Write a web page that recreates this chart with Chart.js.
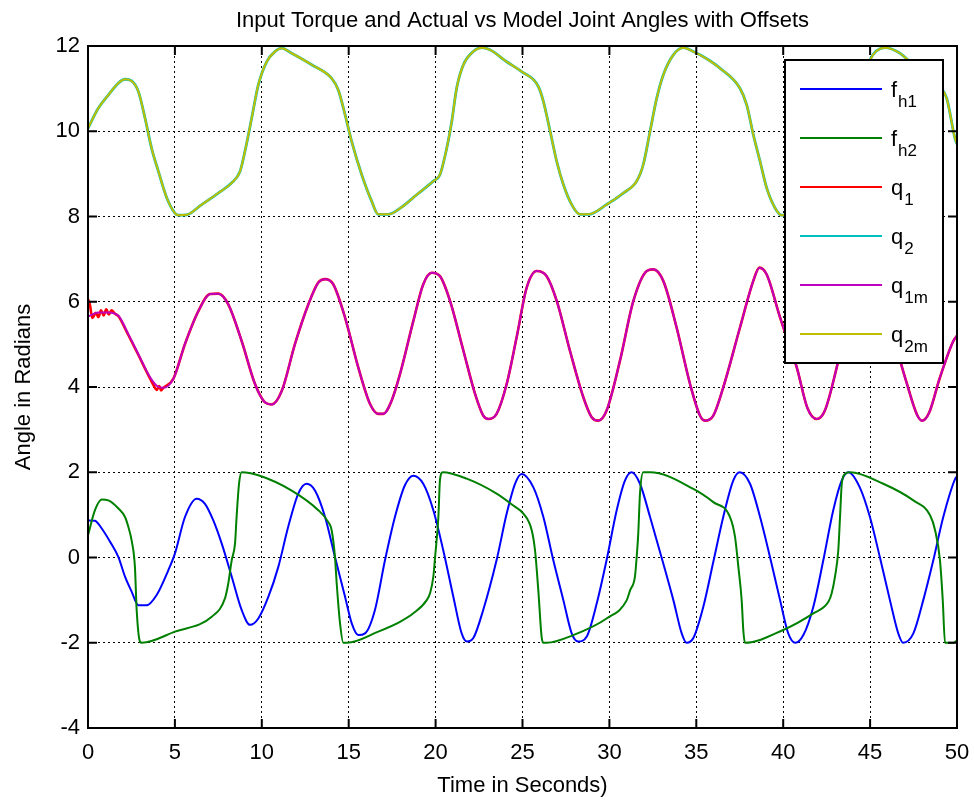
<!DOCTYPE html>
<html>
<head>
<meta charset="utf-8">
<script src="https://cdn.jsdelivr.net/npm/chart.js@4.4.1/dist/chart.umd.min.js"></script>
<style>
html, body { margin: 0; padding: 0; background: #fff; }
#wrap { width: 974px; height: 804px; }
</style>
</head>
<body>
<div id="wrap"><canvas id="chart" width="974" height="804"></canvas></div>
<script>
// axis ticks
const xTicks = [0, 5, 10, 15, 20, 25, 30, 35, 40, 45, 50];
const yTicks = [-4, -2, 0, 2, 4, 6, 8, 10, 12];

// [time, angle] pairs
const fh1 = [[0,0.87],[0.4,0.86],[0.79,0.68],[1.27,0.37],[1.75,0.01],[2.13,-0.45],[2.51,-0.8],[2.9,-1.12],[3.37,-1.12],
  [3.95,-0.88],[4.62,-0.3],[5.0,0.09],[5.58,0.95],[6.25,1.38],[6.73,1.26],[7.21,0.87],[7.69,0.33],[8.27,-0.45],
  [8.84,-1.23],[9.32,-1.58],[9.8,-1.43],[10.38,-0.92],[10.95,-0.22],[11.52,0.72],[12.1,1.5],[12.58,1.73],[13.06,1.57],
  [13.64,0.95],[14.21,0.01],[14.79,-0.92],[15.17,-1.54],[15.55,-1.82],[15.94,-1.78],[16.51,-1.23],[17.09,-0.06],
  [17.66,0.95],[18.24,1.7],[18.72,1.92],[19.29,1.73],[19.87,1.11],[20.44,0.17],[21.02,-0.92],[21.5,-1.78],[21.8,-1.97],
  [22.17,-1.89],[22.74,-1.23],[23.51,-0.06],[24.09,1.03],[24.57,1.73],[24.95,1.96],[25.62,1.65],[26.2,0.95],
  [26.77,-0.06],[27.35,-1.0],[27.83,-1.78],[28.2,-1.97],[28.69,-1.86],[29.27,-1.08],[29.84,-0.06],[30.42,1.11],
  [30.9,1.81],[31.28,2.0],[31.76,1.73],[32.34,0.95],[33.1,-0.14],[33.68,-1.0],[34.16,-1.78],[34.44,-2.0],[34.83,-1.89],
  [35.4,-1.16],[35.98,-0.1],[36.55,0.95],[37.13,1.81],[37.5,2.0],[38.09,1.73],[38.67,0.95],[39.24,0.01],[39.82,-1.0],
  [40.29,-1.78],[40.7,-2.0],[41.16,-1.82],[41.73,-1.16],[42.31,-0.06],[42.88,1.11],[43.37,1.81],[43.75,2.0],[44.4,1.65],
  [44.99,0.95],[45.56,0.01],[46.14,-1.0],[46.62,-1.78],[46.9,-2.0],[47.49,-1.78],[48.06,-1.0],[48.64,-0.06],[49.21,0.95],
  [49.9,1.85],[50,1.9]];

const fh2 = [[0,0.52],[0.4,1.11],[0.79,1.36],[1.17,1.34],[1.75,1.15],[2.13,0.95],[2.32,0.72],[2.51,0.4],[2.7,-0.22],
  [2.8,-1.23],[2.99,-1.97],[3.1,-2.0],[5.0,-1.74],[7.12,-1.39],[7.88,-0.96],[8.07,-0.61],[8.27,-0.06],[8.46,0.33],
  [8.55,0.95],[8.69,1.73],[8.84,2.0],[9.8,1.93],[11.72,1.57],[13.25,1.11],[13.83,0.83],[14.02,0.64],[14.21,0.01],
  [14.31,-0.61],[14.5,-1.54],[14.69,-2.0],[14.9,-2.0],[16.7,-1.74],[17.95,-1.51],[18.72,-1.31],[19.49,-1.0],[19.68,-0.84],
  [19.87,-0.45],[19.97,0.01],[20.16,0.95],[20.25,1.81],[20.41,2.0],[21.79,1.85],[23.51,1.5],[24.47,1.22],[25.05,1.03],
  [25.53,0.64],[25.72,0.17],[25.91,-0.77],[26.1,-1.86],[26.2,-2.0],[26.39,-2.0],[27.92,-1.82],[29.84,-1.43],[31.0,-1.0],
  [31.19,-0.77],[31.47,-0.45],[31.57,0.01],[31.66,0.56],[31.76,1.5],[31.95,2.0],[32.34,2.0],[34.83,1.61],[35.98,1.3],
  [36.94,0.95],[37.23,0.48],[37.42,-0.22],[37.61,-1.0],[37.71,-1.74],[37.8,-2.0],[40.0,-1.7],[41.73,-1.31],[42.6,-1.04],
  [42.79,-0.84],[42.98,-0.45],[43.17,0.17],[43.27,0.95],[43.37,1.73],[43.56,1.96],[43.84,2.0],[45.76,1.73],[47.49,1.34],
  [48.45,0.99],[48.74,0.64],[49.02,-0.06],[49.18,-1.0],[49.31,-2.0],[49.79,-2.0],[50,-1.95]];

const q1m = [[0,5.65],[0.59,5.75],[1.17,5.75],[1.75,5.67],[2.32,5.24],[2.9,4.77],[3.47,4.3],[3.95,4.03],[4.33,3.98],
  [4.91,4.19],[5.58,5.01],[6.35,5.78],[7.02,6.18],[7.5,6.19],[8.07,5.94],[8.84,5.08],[9.61,4.07],[10.18,3.64],
  [10.57,3.59],[11.15,3.91],[11.91,5.01],[12.68,5.94],[13.25,6.45],[13.64,6.53],[14.11,6.41],[14.79,5.63],[15.55,4.46],
  [16.23,3.6],[16.7,3.37],[16.99,3.37],[17.47,3.68],[17.95,4.3],[18.72,5.55],[19.29,6.41],[19.78,6.68],[20.25,6.6],
  [20.83,6.02],[21.6,4.85],[22.27,3.84],[22.74,3.33],[23.03,3.25],[23.51,3.37],[24.09,4.07],[24.66,5.16],[25.24,6.33],
  [25.82,6.72],[26.39,6.6],[26.97,6.02],[27.73,4.85],[28.5,3.76],[28.98,3.29],[29.36,3.21],[29.84,3.45],[30.61,4.62],
  [31.38,6.02],[32.15,6.72],[32.53,6.76],[33.1,6.49],[33.87,5.39],[34.64,4.07],[35.21,3.33],[35.5,3.21],[35.98,3.33],
  [36.55,3.99],[37.51,5.39],[38.28,6.49],[38.63,6.8],[39.05,6.64],[39.82,5.63],[40.3,5.05],[40.78,4.46],[41.4,3.5],
  [41.93,3.25],[42.4,3.45],[43.08,4.46],[43.7,5.6],[44.3,6.5],[44.9,6.78],[45.7,6.2],[46.4,5.1],[47.1,4.1],[47.7,3.35],
  [48.0,3.21],[48.4,3.4],[49.0,4.2],[49.79,5.08],[50,5.2]];

// measured q1 wobbles at the start, then sits on q1m
const q1Start = [[0,6.06],[0.1,5.95],[0.25,5.62],[0.45,5.74],[0.6,5.64],[0.75,5.8],[0.9,5.68],[1.05,5.82],[1.2,5.7],
  [1.35,5.8],[1.55,5.72],[1.75,5.66],[2.32,5.22],[2.9,4.75],[3.47,4.28],[3.8,4.02],[3.95,3.93],[4.1,4.02],[4.2,3.92],
  [4.33,3.98]];
const q1 = q1Start.concat(q1m.filter(p => p[0] > 4.5));

const q2m = [[0,10.07],[0.59,10.54],[1.17,10.85],[1.75,11.13],[2.13,11.22],[2.51,11.18],[2.9,10.93],[3.28,10.31],
  [3.66,9.6],[4.05,9.06],[4.53,8.44],[5.0,8.08],[5.2,8.03],[5.68,8.04],[6.54,8.28],[7.5,8.55],[8.27,8.79],[8.75,9.06],
  [9.03,9.53],[9.42,10.31],[9.8,11.09],[10.28,11.63],[10.76,11.87],[11.14,11.95],[11.72,11.83],[12.87,11.56],
  [14.02,11.24],[14.4,10.97],[14.79,10.39],[15.17,9.76],[15.75,8.98],[16.32,8.36],[16.7,8.05],[17.28,8.05],[18.05,8.22],
  [18.91,8.51],[19.87,8.83],[20.25,8.98],[20.64,9.6],[20.93,10.23],[21.21,11.01],[21.6,11.56],[22.17,11.87],
  [22.65,11.96],[23.13,11.91],[24.09,11.63],[24.95,11.4],[25.91,11.05],[26.2,10.7],[26.59,10.0],[26.97,9.29],
  [27.35,8.75],[27.83,8.28],[28.31,8.05],[28.79,8.05],[29.84,8.28],[30.8,8.55],[31.57,8.83],[31.95,9.22],[32.34,10.0],
  [32.72,10.77],[33.1,11.32],[33.68,11.79],[34.25,11.96],[34.83,11.87],[35.6,11.7],[36.36,11.48],[37.51,11.01],
  [37.9,10.62],[38.28,9.92],[38.67,9.29],[39.05,8.67],[39.53,8.2],[39.91,8.03],[40.5,8.05],[41.5,8.3],[42.5,8.55],
  [43.3,8.85],[43.7,9.4],[44.1,10.2],[44.5,11.0],[44.99,11.67],[45.86,11.96],[46.72,11.83],[47.3,11.63],[48.4,11.3],
  [49.1,11.0],[49.41,10.77],[49.88,9.84],[50,9.7]];
const q2 = q2m;

const seriesData = [fh1, fh2, q1, q2, q1m, q2m];
const seriesColors = ['#0000ff', '#008000', '#ff0000', '#00bfbf', '#bf00bf', '#bfbf00'];
const seriesWidths = [2, 2, 2.6, 2.8, 2, 2];
const legendBase = ['f', 'f', 'q', 'q', 'q', 'q'];
const legendSub = ['h1', 'h2', '1', '2', '1m', '2m'];

const FONT = '"Liberation Sans", Arial, sans-serif';
const titleText = 'Input Torque and Actual vs Model Joint Angles with Offsets';

const matlabLook = {
    id: 'matlabLook',
    afterDraw(chart) {
        const ctx = chart.ctx;
        const area = chart.chartArea;
        const xs = chart.scales.x, ys = chart.scales.y;
        ctx.save();

        // title over the plot area
        ctx.fillStyle = '#000';
        ctx.font = '22px ' + FONT;
        ctx.textAlign = 'center';
        ctx.textBaseline = 'alphabetic';
        ctx.fillText(titleText, (area.left + area.right) / 2, 27);

        // box and inward ticks
        ctx.strokeStyle = '#000';
        ctx.lineWidth = 2;
        ctx.strokeRect(area.left, area.top, area.right - area.left, area.bottom - area.top);
        ctx.beginPath();
        xTicks.forEach(v => {
            const px = xs.getPixelForValue(v);
            ctx.moveTo(px, area.bottom); ctx.lineTo(px, area.bottom - 9);
            ctx.moveTo(px, area.top); ctx.lineTo(px, area.top + 9);
        });
        yTicks.forEach(v => {
            const py = ys.getPixelForValue(v);
            ctx.moveTo(area.left, py); ctx.lineTo(area.left + 9, py);
            ctx.moveTo(area.right, py); ctx.lineTo(area.right - 9, py);
        });
        ctx.stroke();

        // legend box, top right inside the axes
        const bx = area.right - 172, by = area.top + 14, bw = 158, bh = 303;
        ctx.fillStyle = '#fff';
        ctx.fillRect(bx, by, bw, bh);
        ctx.lineWidth = 2;
        ctx.strokeRect(bx, by, bw, bh);
        chart.data.datasets.forEach((ds, i) => {
            const ly = by + 29 + i * 49;
            ctx.strokeStyle = ds.borderColor;
            ctx.lineWidth = 2;
            ctx.beginPath();
            ctx.moveTo(bx + 15, ly);
            ctx.lineTo(bx + 97, ly);
            ctx.stroke();
            ctx.fillStyle = '#000';
            ctx.textAlign = 'left';
            ctx.textBaseline = 'alphabetic';
            ctx.font = '22px ' + FONT;
            ctx.fillText(legendBase[i], bx + 106, ly + 8);
            const w = ctx.measureText(legendBase[i]).width;
            ctx.font = '17px ' + FONT;
            ctx.fillText(legendSub[i], bx + 106 + w + 1, ly + 18);
        });
        ctx.restore();
    }
};

const ctx = document.getElementById('chart').getContext('2d');
const chart = new Chart(ctx, {
    type: 'line',
    data: {
        datasets: seriesData.map((pts, i) => ({
            label: legendBase[i] + legendSub[i],
            data: pts.map(p => ({ x: p[0], y: p[1] })),
            borderColor: seriesColors[i],
            backgroundColor: seriesColors[i],
            borderWidth: seriesWidths[i],
            pointRadius: 0,
            fill: false,
            cubicInterpolationMode: 'monotone',
            order: 5 - i
        }))
    },
    options: {
        responsive: false,
        animation: false,
        devicePixelRatio: 1,
        layout: { padding: { top: 46, right: 17, left: 0, bottom: 0 } },
        plugins: {
            legend: { display: false },
            tooltip: { enabled: false },
            title: { display: false }
        },
        scales: {
            x: {
                type: 'linear',
                min: 0,
                max: 50,
                afterBuildTicks: s => { s.ticks = xTicks.map(v => ({ value: v })); },
                afterFit: s => { s.height = 76; s.paddingLeft = 0; s.paddingRight = 0; },
                grid: { color: '#000', lineWidth: 1, drawTicks: false },
                border: { display: false, dash: [2, 3] },
                ticks: { color: '#000', font: { family: FONT, size: 22 }, padding: 12, maxRotation: 0 },
                title: { display: true, text: 'Time in Seconds)', color: '#000',
                         font: { family: FONT, size: 22 }, padding: { top: 0, bottom: 5 } }
            },
            y: {
                type: 'linear',
                min: -4,
                max: 12,
                afterBuildTicks: s => { s.ticks = yTicks.map(v => ({ value: v })); },
                afterFit: s => { s.width = 88; s.paddingTop = 0; s.paddingBottom = 0; },
                grid: { color: '#000', lineWidth: 1, drawTicks: false },
                border: { display: false, dash: [2, 3] },
                ticks: { color: '#000', font: { family: FONT, size: 22 }, padding: 8 },
                title: { display: true, text: 'Angle in Radians', color: '#000',
                         font: { family: FONT, size: 22 }, padding: { top: 11, bottom: 0 } }
            }
        }
    },
    plugins: [matlabLook]
});
</script>
</body>
</html>
